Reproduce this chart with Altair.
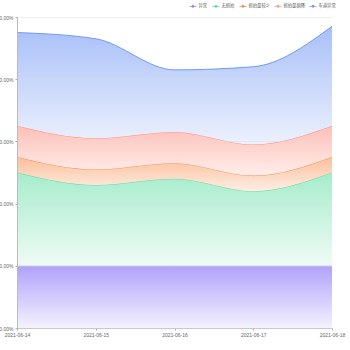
import altair as alt
import pandas as pd

dates = ["2021-06-14", "2021-06-15", "2021-06-16", "2021-06-17", "2021-06-18"]
series = ["异常", "无抓拍", "抓拍量较少", "抓拍量剧降", "车道异常"]
v_yichang = [1.0, 1.0, 1.0, 1.0, 1.0]
v_wuzhuapai = [1.5, 1.3, 1.4, 1.2, 1.5]
v_jiaoshao = [0.25, 0.25, 0.25, 0.25, 0.25]
v_jujiang = [0.5, 0.5, 0.5, 0.5, 0.5]
v_chedao = [1.5, 1.6, 1.0, 1.25, 1.6]

line_colors = ["#9683f6", "#5dd7a4", "#f5884f", "#fd968a", "#6e9bf3"]
top_colors = ["#b0a1fb", "#a6eccc", "#fbbf9a", "#ffbfb7", "#a8bff8"]
bottom_colors = ["#f4f2fe", "#effbf5", "#fdeee4", "#ffeeeb", "#ecf1fd"]

all_vals = [v_yichang, v_wuzhuapai, v_jiaoshao, v_jujiang, v_chedao]
rows = []
for i, (s, vals) in enumerate(zip(series, all_vals)):
    for d, v in zip(dates, vals):
        rows.append({"date": d, "series": s, "value": v, "order": i})
df = pd.DataFrame(rows)

base = alt.Chart(df).transform_stack(
    stack="value", groupby=["date"], as_=["v0", "v1"], sort=[alt.SortField("order")]
)

xenc = alt.X("date:O", scale=alt.Scale(type="point", padding=0),
             axis=alt.Axis(title=None, labelAngle=0, labelFontSize=5, labelColor="#666",
                           labelFont="Liberation Sans", tickSize=2, tickColor="#aaa",
                           domainColor="#bbb", labelPadding=2, grid=False))
yscale = alt.Scale(domain=[0, 5])
yaxis = alt.Axis(title=None, format=".2%", values=[0, 1, 2, 3, 4, 5],
                 labelFontSize=5, labelColor="#666", labelFont="Liberation Sans",
                 tickSize=2, tickColor="#aaa", domainColor="#bbb",
                 gridColor="#dcdcdc", gridOpacity=0.45, labelPadding=2, zindex=1)

layers = []
for i, s in enumerate(series):
    grad = alt.Gradient(gradient="linear", x1=0, y1=0, x2=0, y2=1,
                        stops=[alt.GradientStop(offset=0, color=top_colors[i]),
                               alt.GradientStop(offset=1, color=bottom_colors[i])])
    sub = base.transform_filter(alt.datum.series == s)
    area = sub.mark_area(interpolate="monotone", color=grad, opacity=1).encode(
        x=xenc,
        y=alt.Y("v1:Q", scale=yscale, axis=yaxis),
        y2="v0:Q",
    )
    line = sub.mark_line(interpolate="monotone", strokeWidth=1, color=line_colors[i]).encode(
        x=xenc,
        y=alt.Y("v1:Q", scale=yscale),
    )
    layers.append(area)
    layers.append(line)

legend_pts = base.mark_point(filled=True, opacity=0, size=1).encode(
    x=xenc,
    y=alt.Y("v1:Q", scale=yscale),
    color=alt.Color("series:N", scale=alt.Scale(domain=series, range=line_colors),
                    sort=series,
                    legend=alt.Legend(title=None, orient="none", direction="horizontal",
                                      legendX=172, legendY=-15, padding=0,
                                      labelFontSize=4.3, labelFont="Noto Sans CJK SC",
                                      labelColor="#555", labelOffset=1.5, columnPadding=4,
                                      symbolType="M-1,-0.12L1,-0.12L1,0.12L-1,0.12Z M0,-0.5L0.5,0L0,0.5L-0.5,0Z",
                                      symbolSize=50, symbolStrokeWidth=0, symbolOpacity=1)),
)
layers.append(legend_pts)

chart = alt.layer(*layers).properties(
    width=315, height=311,
    autosize=alt.AutoSizeParams(type="none"),
    padding={"left": 17, "top": 17, "right": 18, "bottom": 22},
).configure_view(stroke=None)

chart.save("out.html", embed_options={"renderer": "svg", "actions": False})
